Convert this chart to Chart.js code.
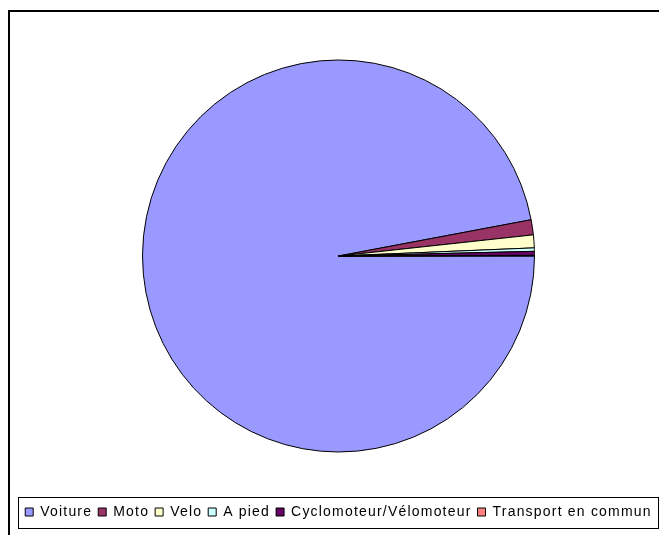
<!DOCTYPE html>
<html>
<head>
<meta charset="utf-8">
<script src="https://cdn.jsdelivr.net/npm/chart.js@4/dist/chart.umd.min.js"></script>
<style>
  html, body { margin: 0; padding: 0; background: #fff; }
  #wrap { position: relative; width: 659px; height: 535px; }
</style>
</head>
<body>
<div id="wrap"><canvas id="pie" width="659" height="535"></canvas></div>
<script>
// share of trips by transport mode (%)
const labels = ["Voiture", "Moto", "Velo", "A pied", "Cyclomoteur/Vélomoteur", "Transport en commun"];
const values = [97.04, 1.24, 1.06, 0.28, 0.33, 0.05];
const colors = ["#9999FF", "#993366", "#FFFFCC", "#CCFFFF", "#660066", "#FF8080"];

const SPACING = "1.2px";

// frame of the chart area + box round the legend
const framePlugin = {
  id: "frame",
  beforeLayout(chart) {
    chart.ctx.letterSpacing = SPACING;
  },
  beforeDraw(chart) {
    const ctx = chart.ctx;
    ctx.save();
    ctx.fillStyle = "#000";
    ctx.fillRect(8, 10, 2, chart.height - 10);
    ctx.fillRect(8, 10, chart.width - 8, 2);
    ctx.restore();
    ctx.letterSpacing = SPACING;
  },
  afterDraw(chart) {
    const lg = chart.legend;
    const ctx = chart.ctx;
    ctx.save();
    ctx.strokeStyle = "#000";
    ctx.lineWidth = 1;
    ctx.strokeRect(lg.left + 0.5, lg.top - 1.5, lg.right - lg.left - 1, lg.bottom - lg.top + 1);
    ctx.restore();
  }
};

new Chart(document.getElementById("pie").getContext("2d"), {
  type: "pie",
  data: {
    labels: labels,
    datasets: [{
      data: values,
      backgroundColor: colors,
      borderColor: "#000",
      borderWidth: 1,
      radius: 196
    }]
  },
  options: {
    responsive: false,
    animation: false,
    rotation: 90,
    layout: { padding: { top: 13, left: 18, right: 0, bottom: 6 } },
    plugins: {
      tooltip: { enabled: false },
      legend: {
        position: "bottom",
        labels: {
          boxWidth: 8,
          boxHeight: 8,
          padding: 6,
          color: "#000",
          font: { family: "'Liberation Sans', Arial, sans-serif", size: 14 },
          generateLabels(chart) {
            return labels.map((t, i) => ({
              text: t,
              fillStyle: colors[i],
              strokeStyle: "#000",
              lineWidth: 1,
              index: i,
              hidden: false
            }));
          }
        }
      }
    }
  },
  plugins: [framePlugin]
});
</script>
</body>
</html>
